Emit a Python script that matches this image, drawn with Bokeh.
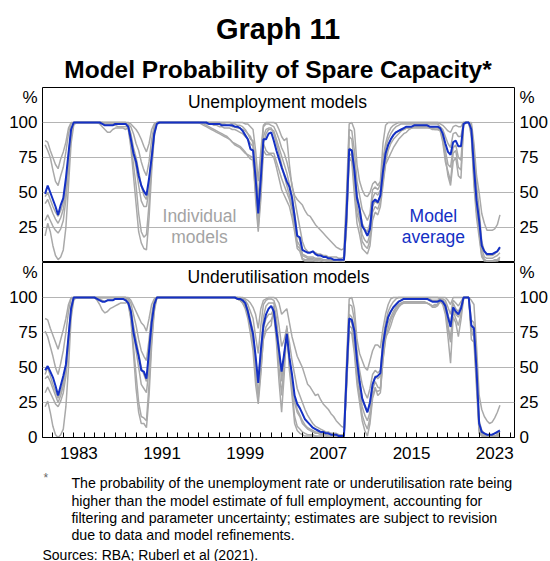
import numpy as np
from bokeh.embed import file_html
from bokeh.layouts import column
from bokeh.models import FixedTicker, Label, LinearAxis, Range1d
from bokeh.plotting import figure
from bokeh.resources import INLINE

FONT = "Liberation Sans"
GREY_LINE = "#a9a9a9"
GREY_TEXT = "#a3a3a3"
BLUE = "#1430c4"
GRID = "#b4b4b4"

# Quarterly observations 1980 Q1 - 2023 Q4, placed at the end of each quarter
quarters = 1980.25 + 0.25 * np.arange(176)

year_labels = ["1983", "1991", "1999", "2007", "2015", "2023"]
pct_ticks = [25, 50, 75, 100]

# ---- Unemployment models: probability of spare capacity (%) ----
unemp_avg = [
    49, 55, 50, 45, 40, 34, 41, 46, 60, 78, 95, 100,
    100, 100, 100, 100, 100, 100, 100, 100, 100, 100, 99, 98, 98, 98, 98, 99, 99, 99, 99, 99,
    97, 88, 78, 72, 62, 55, 51, 48, 60, 75, 92, 99,
    100, 100, 100, 100, 100, 100, 100, 100, 100, 100, 100, 100, 100, 100, 100, 100,
    100, 100, 100, 99, 99, 99, 99, 99, 98, 98, 98, 98, 98, 97, 97, 96,
    94, 91, 88, 81, 80, 60, 35, 60, 88, 88, 92, 93,
    87, 80, 74, 68, 63, 58, 54, 46, 33, 19, 18, 9, 8, 7, 7, 8, 6, 5, 5, 4, 4, 3, 3, 2, 2, 2, 2, 2,
    35, 81, 80, 66, 46, 38, 26, 23, 19, 24, 43, 45, 43, 48, 65, 78,
    84, 88, 91, 93, 94, 95, 96, 97, 97, 97, 98, 98, 98, 98, 98, 98, 97, 97, 97, 97,
    96, 92, 85, 79, 77, 86, 87, 83, 83, 99, 100, 100,
    95, 68, 44, 30, 12, 8, 6, 6, 6, 7, 8, 11,
]
unemp_m1 = [
    87, 86, 80, 75, 70, 67, 74, 79, 86, 96, 100, 100,
    100, 100, 100, 100, 100, 100, 100, 100, 100, 100, 100, 100, 100, 100, 100, 100, 100, 100, 100, 100,
    100, 99, 97, 95, 92, 88, 83, 79, 85, 95, 99, 100,
    100, 100, 100, 100, 100, 100, 100, 100, 100, 100, 100, 100, 100, 100, 100, 100,
    100, 100, 100, 100, 100, 100, 100, 100, 100, 100, 100, 100, 100, 100, 100, 100,
    100, 99, 99, 97, 95, 80, 58, 80, 98, 100, 100, 100,
    100, 99, 95, 90, 87, 89, 70, 54, 48, 45, 43, 41, 37, 34, 33, 30, 27, 25, 23, 21, 19, 17, 15, 13, 11, 10, 9, 10,
    50, 99, 100, 95, 70, 58, 52, 48, 47, 50, 56, 58, 55, 58, 85, 98,
    100, 100, 100, 100, 100, 100, 100, 100, 100, 100, 100, 100, 100, 100, 100, 100, 100, 100, 100, 100,
    100, 100, 100, 100, 100, 100, 100, 100, 100, 100, 100, 100,
    100, 85, 62, 50, 35, 28, 23, 23, 23, 24, 27, 34,
]
unemp_m2 = [
    84, 80, 75, 66, 58, 55, 62, 68, 79, 92, 99, 100,
    100, 100, 100, 100, 100, 100, 100, 100, 100, 100, 100, 99, 99, 99, 99, 99, 99, 99, 99, 99,
    99, 97, 92, 85, 80, 72, 66, 62, 72, 88, 98, 100,
    100, 100, 100, 100, 100, 100, 100, 100, 100, 100, 100, 100, 100, 100, 100, 100,
    100, 100, 100, 100, 100, 100, 100, 100, 99, 99, 98, 98, 97, 97, 96, 96,
    95, 94, 92, 88, 87, 70, 45, 72, 97, 99, 99, 98,
    97, 93, 88, 82, 78, 72, 64, 56, 45, 35, 25, 15, 10, 8, 7, 8, 7, 6, 6, 5, 5, 4, 4, 4, 4, 3, 3, 4,
    40, 95, 94, 80, 58, 48, 38, 34, 30, 35, 52, 54, 52, 56, 74, 85,
    92, 96, 98, 99, 100, 100, 100, 100, 100, 100, 100, 100, 100, 100, 100, 100, 100, 100, 100, 100,
    99, 98, 96, 94, 93, 97, 98, 97, 97, 100, 100, 100,
    98, 80, 55, 38, 15, 8, 5, 5, 5, 6, 8, 10,
]
unemp_m3 = [
    47, 50, 45, 40, 36, 33, 37, 43, 56, 76, 95, 100,
    100, 100, 100, 100, 100, 100, 100, 100, 100, 100, 99, 98, 98, 98, 98, 98, 97, 97, 97, 97,
    98, 92, 82, 75, 65, 55, 48, 45, 58, 78, 96, 100,
    100, 100, 100, 100, 100, 100, 100, 100, 100, 100, 100, 100, 100, 100, 100, 100,
    100, 100, 99, 99, 99, 98, 98, 97, 97, 96, 96, 96, 95, 95, 94, 93,
    92, 90, 88, 85, 83, 55, 30, 55, 90, 95, 96, 96,
    92, 85, 78, 70, 62, 55, 48, 40, 28, 15, 12, 5, 4, 3, 3, 3, 2, 2, 2, 1, 1, 1, 1, 1, 1, 0, 0, 1,
    35, 90, 88, 70, 48, 40, 28, 24, 22, 28, 46, 50, 48, 52, 70, 82,
    88, 92, 95, 97, 98, 99, 99, 99, 99, 99, 99, 99, 99, 99, 99, 99, 99, 99, 99, 99,
    97, 95, 90, 85, 82, 92, 93, 90, 90, 100, 100, 100,
    97, 72, 48, 30, 10, 4, 3, 3, 3, 4, 5, 7,
]
unemp_m4 = [
    42, 45, 40, 35, 31, 28, 32, 38, 50, 70, 92, 100,
    100, 100, 100, 100, 100, 100, 100, 100, 100, 99, 97, 95, 93, 93, 95, 96, 96, 96, 96, 95,
    97, 90, 78, 68, 55, 44, 40, 40, 52, 72, 94, 100,
    100, 100, 100, 100, 100, 100, 100, 100, 100, 100, 100, 100, 100, 100, 100, 100,
    99, 98, 97, 96, 95, 94, 93, 92, 91, 90, 89, 88, 86, 85, 84, 83,
    81, 79, 76, 74, 73, 50, 25, 50, 85, 80, 78, 78,
    78, 72, 66, 60, 55, 50, 45, 38, 25, 12, 10, 3, 2, 2, 2, 2, 1, 1, 1, 1, 0, 0, 0, 0, 0, 0, 0, 0,
    30, 82, 80, 62, 40, 32, 20, 16, 14, 20, 40, 44, 42, 48, 62, 76,
    84, 88, 91, 93, 94, 95, 95, 96, 96, 96, 96, 96, 96, 96, 96, 96, 96, 95, 95, 95,
    95, 90, 80, 70, 68, 82, 84, 75, 73, 100, 100, 100,
    95, 65, 40, 25, 6, 2, 1, 1, 1, 2, 2, 4,
]
unemp_m5 = [
    30, 34, 30, 26, 23, 21, 24, 30, 45, 66, 90, 99,
    100, 100, 100, 100, 100, 100, 100, 100, 100, 100, 100, 100, 100, 100, 100, 100, 100, 100, 100, 100,
    96, 86, 70, 55, 35, 22, 18, 20, 42, 70, 92, 100,
    100, 100, 100, 100, 100, 100, 100, 100, 100, 100, 100, 100, 100, 100, 100, 100,
    100, 99, 98, 97, 96, 95, 94, 93, 92, 91, 90, 88, 86, 84, 83, 82,
    80, 78, 77, 76, 75, 45, 22, 45, 80, 77, 77, 77,
    75, 68, 60, 52, 48, 44, 40, 32, 22, 10, 8, 2, 1, 1, 1, 1, 1, 1, 0, 0, 0, 0, 0, 0, 0, 0, 0, 0,
    28, 78, 76, 55, 35, 28, 15, 12, 10, 16, 36, 40, 38, 44, 58, 72,
    80, 85, 88, 90, 92, 94, 95, 96, 96, 97, 97, 97, 97, 97, 97, 97, 96, 96, 96, 96,
    95, 88, 75, 62, 55, 72, 75, 62, 60, 98, 100, 100,
    90, 55, 32, 18, 4, 1, 1, 1, 1, 1, 1, 2,
]
unemp_m6 = [
    19, 28, 22, 12, 5, 2, 4, 9, 25, 55, 85, 98,
    100, 100, 100, 100, 100, 100, 100, 100, 100, 100, 100, 100, 100, 100, 100, 100, 100, 100, 100, 100,
    95, 82, 62, 42, 22, 14, 10, 9, 32, 65, 90, 100,
    100, 100, 100, 100, 100, 100, 100, 100, 100, 100, 100, 100, 100, 100, 100, 100,
    100, 100, 100, 100, 100, 100, 100, 100, 100, 100, 100, 100, 99, 99, 98, 98,
    97, 95, 92, 90, 85, 60, 28, 52, 85, 92, 95, 95,
    94, 88, 82, 76, 70, 64, 56, 48, 35, 20, 16, 6, 5, 4, 4, 4, 3, 3, 3, 2, 2, 2, 2, 1, 1, 1, 1, 1,
    25, 75, 72, 48, 28, 20, 10, 8, 6, 12, 30, 36, 34, 40, 55, 70,
    74, 78, 82, 85, 88, 90, 92, 93, 95, 96, 97, 97, 97, 97, 97, 97, 96, 96, 95, 95,
    94, 86, 72, 65, 58, 78, 80, 68, 66, 99, 100, 100,
    92, 60, 36, 22, 5, 2, 1, 1, 1, 1, 2, 3,
]

# ---- Underutilisation models: probability of spare capacity (%) ----
under_avg = [
    48, 51, 47, 43, 37, 30, 37, 44, 52, 72, 92, 100,
    100, 100, 100, 100, 100, 100, 100, 100, 99, 98, 97, 97, 98, 98, 98, 99, 99, 99, 99, 98,
    96, 90, 75, 66, 58, 48, 47, 42, 62, 82, 95, 100,
    100, 100, 100, 100, 100, 100, 100, 100, 100, 100, 100, 100, 100, 100, 100,
    100, 100, 100, 100, 100, 100, 100, 100, 100, 100, 100, 100, 100, 100, 100,
    99, 99, 98, 96, 90, 82, 74, 58, 39, 62, 80, 88, 92, 94,
    90, 76, 62, 47, 60, 74, 57, 45, 30, 24, 21, 17, 13, 11, 9, 7, 6, 5, 4, 4, 3, 3, 2, 2, 2, 1, 1, 1,
    45, 85, 84, 76, 55, 40, 28, 23, 18, 25, 38, 43, 44, 46, 66, 78,
    86, 90, 93, 95, 97, 98, 99, 99, 99, 99, 99, 99, 99, 99, 99, 99, 98, 97, 97, 97,
    98, 97, 94, 86, 79, 93, 90, 88, 92, 100, 100, 100,
    80, 78, 48, 10, 4, 3, 2, 2, 2, 3, 4, 5,
]
under_m1 = [
    85, 84, 78, 73, 68, 63, 70, 77, 85, 95, 100, 100,
    100, 100, 100, 100, 100, 100, 100, 100, 100, 100, 100, 100, 100, 100, 100, 100, 100, 100, 100, 100,
    100, 98, 94, 90, 86, 82, 80, 76, 85, 95, 99, 100,
    100, 100, 100, 100, 100, 100, 100, 100, 100, 100, 100, 100, 100, 100, 100,
    100, 100, 100, 100, 100, 100, 100, 100, 100, 100, 100, 100, 100, 100, 100,
    100, 100, 100, 99, 98, 96, 93, 88, 78, 92, 98, 99, 100, 100,
    100, 99, 96, 88, 90, 92, 82, 72, 65, 58, 54, 50, 44, 38, 36, 33, 30, 31, 27, 24, 22, 20, 17, 15, 12, 10, 8, 7,
    55, 99, 100, 92, 70, 60, 55, 50, 48, 55, 62, 66, 66, 64, 78, 88,
    95, 99, 100, 100, 100, 100, 100, 100, 100, 100, 100, 100, 100, 100, 100, 100, 100, 100, 100, 100,
    100, 100, 100, 98, 95, 100, 100, 100, 100, 100, 100, 100,
    98, 95, 65, 30, 20, 15, 12, 10, 11, 14, 18, 23,
]
under_m2 = [
    76, 72, 65, 58, 50, 45, 53, 62, 75, 90, 99, 100,
    100, 100, 100, 100, 100, 100, 100, 100, 100, 100, 100, 100, 100, 100, 100, 100, 100, 100, 100, 100,
    99, 96, 88, 80, 70, 62, 58, 55, 70, 88, 98, 100,
    100, 100, 100, 100, 100, 100, 100, 100, 100, 100, 100, 100, 100, 100, 100,
    100, 100, 100, 100, 100, 100, 100, 100, 100, 100, 100, 100, 100, 100, 100,
    100, 100, 99, 98, 95, 90, 85, 72, 60, 80, 95, 98, 99, 99,
    98, 92, 80, 65, 70, 78, 68, 55, 45, 35, 30, 25, 20, 16, 13, 10, 8, 7, 6, 5, 4, 4, 3, 3, 3, 2, 2, 2,
    48, 95, 94, 84, 62, 48, 38, 32, 28, 35, 45, 48, 46, 48, 70, 82,
    90, 94, 97, 99, 100, 100, 100, 100, 100, 100, 100, 100, 100, 100, 100, 100, 100, 100, 100, 100,
    99, 99, 98, 93, 88, 98, 96, 94, 97, 100, 100, 100,
    84, 82, 55, 12, 5, 3, 2, 2, 2, 3, 3, 4,
]
under_m3 = [
    45, 50, 44, 38, 33, 28, 33, 40, 52, 72, 94, 100,
    100, 100, 100, 100, 100, 100, 100, 100, 99, 99, 98, 97, 98, 98, 98, 99, 99, 99, 99, 98,
    98, 92, 80, 70, 60, 50, 45, 40, 58, 80, 96, 100,
    100, 100, 100, 100, 100, 100, 100, 100, 100, 100, 100, 100, 100, 100, 100,
    100, 100, 100, 100, 100, 100, 100, 100, 100, 100, 100, 100, 100, 100, 100,
    100, 99, 98, 96, 92, 84, 76, 55, 42, 62, 86, 94, 96, 96,
    96, 85, 65, 40, 58, 76, 56, 42, 25, 18, 15, 10, 8, 6, 5, 4, 3, 3, 2, 2, 2, 1, 1, 1, 1, 1, 1, 1,
    42, 88, 86, 78, 55, 40, 28, 22, 18, 25, 38, 44, 42, 44, 66, 78,
    86, 90, 93, 95, 97, 98, 99, 99, 99, 99, 99, 99, 99, 99, 99, 99, 99, 98, 98, 98,
    99, 98, 96, 88, 80, 96, 92, 90, 94, 100, 100, 100,
    78, 76, 48, 8, 3, 2, 1, 1, 1, 1, 2, 3,
]
under_m4 = [
    42, 44, 40, 35, 30, 25, 30, 37, 48, 68, 92, 100,
    100, 100, 100, 100, 100, 100, 100, 100, 98, 95, 91, 89, 90, 92, 93, 94, 95, 96, 96, 96,
    97, 90, 75, 62, 50, 38, 35, 32, 50, 75, 94, 100,
    100, 100, 100, 100, 100, 100, 100, 100, 100, 100, 100, 100, 100, 100, 100,
    100, 100, 100, 100, 100, 100, 100, 100, 100, 100, 100, 100, 100, 100, 100,
    99, 98, 97, 94, 88, 78, 68, 45, 31, 52, 78, 85, 88, 88,
    92, 75, 50, 30, 55, 80, 52, 35, 15, 8, 6, 4, 3, 2, 2, 2, 1, 1, 1, 1, 1, 0, 0, 0, 0, 0, 0, 0,
    40, 84, 82, 72, 48, 35, 22, 16, 12, 18, 34, 40, 36, 35, 60, 74,
    82, 86, 90, 93, 95, 96, 97, 97, 97, 97, 97, 97, 97, 97, 97, 96, 95, 94, 94, 95,
    98, 96, 92, 80, 70, 92, 88, 86, 90, 100, 100, 100,
    75, 72, 40, 5, 2, 1, 0, 0, 0, 1, 1, 2,
]
under_m5 = [
    32, 36, 32, 28, 24, 22, 26, 32, 44, 64, 90, 99,
    100, 100, 100, 100, 100, 100, 100, 100, 100, 100, 100, 100, 100, 100, 100, 100, 100, 100, 100, 100,
    96, 86, 65, 45, 25, 15, 14, 12, 38, 70, 92, 100,
    100, 100, 100, 100, 100, 100, 100, 100, 100, 100, 100, 100, 100, 100, 100,
    100, 100, 100, 100, 100, 100, 100, 100, 100, 100, 100, 100, 100, 100, 100,
    99, 98, 96, 92, 85, 74, 62, 38, 24, 45, 72, 79, 82, 84,
    88, 68, 40, 18, 45, 78, 48, 30, 10, 5, 3, 2, 1, 1, 1, 1, 1, 0, 0, 0, 0, 0, 0, 0, 0, 0, 0, 0,
    38, 80, 78, 66, 42, 30, 16, 10, 6, 14, 30, 36, 30, 32, 55, 70,
    78, 84, 88, 92, 94, 96, 96, 96, 96, 96, 96, 96, 96, 96, 96, 96, 95, 93, 93, 94,
    97, 95, 88, 72, 53, 86, 82, 72, 84, 99, 100, 100,
    70, 68, 35, 3, 1, 0, 0, 0, 0, 0, 0, 1,
]
under_m6 = [
    22, 26, 18, 8, 2, 0, 2, 6, 22, 50, 85, 98,
    100, 100, 100, 100, 100, 100, 100, 100, 100, 100, 100, 100, 100, 100, 100, 100, 100, 100, 100, 100,
    95, 84, 60, 35, 18, 10, 10, 7, 30, 66, 90, 100,
    100, 100, 100, 100, 100, 100, 100, 100, 100, 100, 100, 100, 100, 100, 100,
    100, 100, 100, 100, 100, 100, 100, 100, 100, 100, 100, 100, 100, 100, 100,
    99, 98, 96, 94, 90, 80, 70, 50, 28, 48, 70, 76, 78, 80,
    94, 80, 60, 45, 60, 72, 55, 42, 28, 20, 16, 12, 9, 7, 6, 5, 4, 4, 3, 3, 3, 2, 2, 2, 1, 1, 1, 1,
    36, 76, 74, 60, 38, 25, 12, 5, 1, 10, 28, 34, 33, 34, 56, 72,
    75, 80, 86, 90, 93, 95, 96, 96, 96, 96, 96, 96, 96, 96, 96, 96, 95, 94, 95, 95,
    98, 96, 90, 78, 68, 90, 85, 80, 88, 100, 100, 100,
    76, 74, 45, 6, 2, 1, 1, 1, 1, 1, 2, 2,
]

unemp_models = [unemp_m1, unemp_m2, unemp_m3, unemp_m4, unemp_m5, unemp_m6]
under_models = [under_m1, under_m2, under_m3, under_m4, under_m5, under_m6]
for s in unemp_models + under_models + [unemp_avg, under_avg]:
    assert len(s) == len(quarters), len(s)

notes = [
    "The probability of the unemployment rate or underutilisation rate being",
    "higher than the model estimate of full employment, accounting for",
    "filtering and parameter uncertainty; estimates are subject to revision",
    "due to data and model refinements.",
]
source_note = "Sources: RBA; Ruberl et al (2021)."

BORDER_L, BORDER_R = 42, 34
PAGE_W = 550


def add_text(p, x, y, s, size="17.5px", color="black", style="normal", align="center"):
    p.add_layout(Label(x=x, y=y, text=s, text_font=FONT, text_font_size=size,
                       text_color=color, text_font_style=style,
                       text_align=align, text_baseline="middle"))


def text_strip(height):
    # plain canvas for the heading and the notes; its frame lines up with the
    # panels, and its x scale is in page pixels
    c = figure(width=PAGE_W, height=height,
               x_range=Range1d(BORDER_L, PAGE_W - BORDER_R), y_range=Range1d(0, height),
               x_axis_location=None, y_axis_location=None,
               min_border_left=BORDER_L, min_border_right=BORDER_R,
               min_border_top=0, min_border_bottom=0,
               output_backend="svg", toolbar_location=None)
    c.outline_line_color = None
    c.xgrid.visible = False
    c.ygrid.visible = False
    c.background_fill_color = "white"
    c.border_fill_color = "white"
    return c


def make_panel(height, border_bottom, ticks, show_x):
    p = figure(width=PAGE_W, height=height,
               x_range=Range1d(1980, 2025.4), y_range=Range1d(0, 125),
               x_axis_location="below" if show_x else None,
               y_axis_location=None,
               min_border_left=BORDER_L, min_border_right=BORDER_R,
               min_border_top=0, min_border_bottom=border_bottom,
               output_backend="svg", toolbar_location=None)
    p.outline_line_color = "black"
    p.outline_line_width = 1
    p.background_fill_color = "white"
    p.border_fill_color = "white"
    p.xgrid.visible = False
    p.ygrid.ticker = FixedTicker(ticks=pct_ticks)
    p.ygrid.grid_line_color = GRID
    p.ygrid.grid_line_width = 1
    # "%" unit marker sits near the top of each panel on both sides
    for side in ("left", "right"):
        ax = LinearAxis(ticker=FixedTicker(ticks=ticks + [118]),
                        major_label_overrides={118: "%"},
                        axis_line_color=None,
                        major_tick_line_color=None, minor_tick_line_color=None,
                        major_tick_in=0, major_tick_out=0,
                        major_label_standoff=5,
                        major_label_text_font=FONT,
                        major_label_text_font_size="17px",
                        major_label_text_color="black")
        p.add_layout(ax, side)
    return p


def draw_series(p, models, avg):
    for m in models:
        p.line(quarters, m, line_color=GREY_LINE, line_width=1.5)
    p.line(quarters, avg, line_color=BLUE, line_width=2)


# Heading
head = text_strip(87)
add_text(head, 278.5, 59, "Graph 11", size="29px", style="bold")
add_text(head, 278.5, 18, "Model Probability of Spare Capacity*", size="24.5px", style="bold")

# Top panel: unemployment models
p1 = make_panel(175, 0, pct_ticks, False)
draw_series(p1, unemp_models, unemp_avg)
add_text(p1, 2002.6, 115, "Unemployment models")
add_text(p1, 1995.1, 33, "Individual", color=GREY_TEXT)
add_text(p1, 1995.1, 18.5, "models", color=GREY_TEXT)
add_text(p1, 2017.6, 33, "Model", color=BLUE)
add_text(p1, 2017.6, 18.5, "average", color=BLUE)

# Bottom panel: underutilisation models with the year axis
p2 = make_panel(208, 33, [0] + pct_ticks, True)
draw_series(p2, under_models, under_avg)
add_text(p2, 2002.7, 115, "Underutilisation models")

label_pos = [int(y) + 0.5 for y in year_labels]
xa = p2.xaxis[0]
xa.ticker = FixedTicker(ticks=label_pos, minor_ticks=list(range(1981, 2026)))
xa.major_label_overrides = {pos: lab for pos, lab in zip(label_pos, year_labels)}
xa.major_tick_line_color = None
xa.major_tick_in = 0
xa.major_tick_out = 0
xa.minor_tick_in = 5
xa.minor_tick_out = 0
xa.minor_tick_line_color = "black"
xa.axis_line_color = "black"
xa.major_label_standoff = 9
xa.major_label_text_font = FONT
xa.major_label_text_font_size = "17px"
xa.major_label_text_color = "black"

# Notes
foot = text_strip(91)
add_text(foot, 43, 84, "*", size="12px", color="#666666", align="left")
for i, line in enumerate(notes):
    add_text(foot, 71, 78.3 - 17.3 * i, line, size="14.2px", align="left")
add_text(foot, 42, 7, source_note, size="14px", align="left")

layout = column(head, p1, p2, foot)
open("out.html", "w").write(file_html(layout, INLINE))
